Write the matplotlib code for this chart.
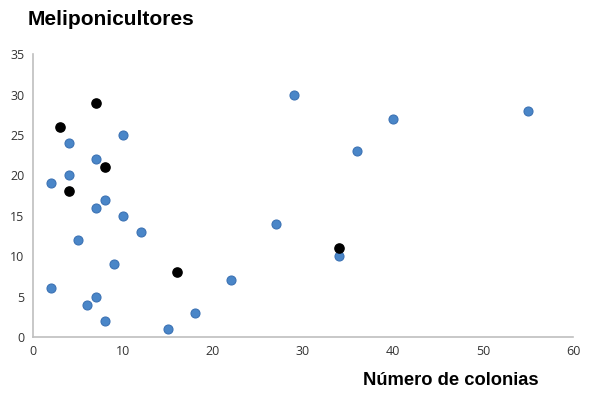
import matplotlib.pyplot as plt

# blue series (x = number of colonies, y = value)
blue_x = [2, 4, 7, 10, 4, 8, 7, 10, 12, 5, 9, 2, 7, 6, 8, 15, 18, 22, 27, 29, 36, 40, 55, 34]
blue_y = [19, 24, 22, 25, 20, 17, 16, 15, 13, 12, 9, 6, 5, 4, 2, 1, 3, 7, 14, 30, 23, 27, 28, 10]

# black series
black_x = [7, 3, 8, 4, 16, 34]
black_y = [29, 26, 21, 18, 8, 11]

x_ticks = [0, 10, 20, 30, 40, 50, 60]
y_ticks = [0, 5, 10, 15, 20, 25, 30, 35]

fig = plt.figure(figsize=(5.89, 3.95), dpi=100)
ax = fig.add_axes([0.056, 0.147, 0.917, 0.716])

ax.scatter(blue_x, blue_y, s=42, color='#4a86c8', edgecolors='#3c72b4', linewidths=0.8, zorder=3)
ax.scatter(black_x, black_y, s=44, color='black', zorder=4)

ax.set_xlim(0, 60)
ax.set_ylim(0, 35)
ax.set_xticks(x_ticks)
ax.set_yticks(y_ticks)
ax.tick_params(length=0, labelsize=9, colors='#333333', pad=6)
for lab in ax.get_xticklabels() + ax.get_yticklabels():
    lab.set_family('Open Sans')

for side in ['top', 'right']:
    ax.spines[side].set_visible(False)
for side in ['left', 'bottom']:
    ax.spines[side].set_color('#bfbfbf')
    ax.spines[side].set_linewidth(1.2)

fig.text(0.047, 0.95, 'Meliponicultores', fontsize=15, fontweight='bold',
         family='Liberation Sans', va='center', ha='left')
fig.text(0.766, 0.037, 'Número de colonias', fontsize=13.2, fontweight='bold',
         family='Liberation Sans', va='center', ha='center')

fig.savefig('out.png', dpi=100)
